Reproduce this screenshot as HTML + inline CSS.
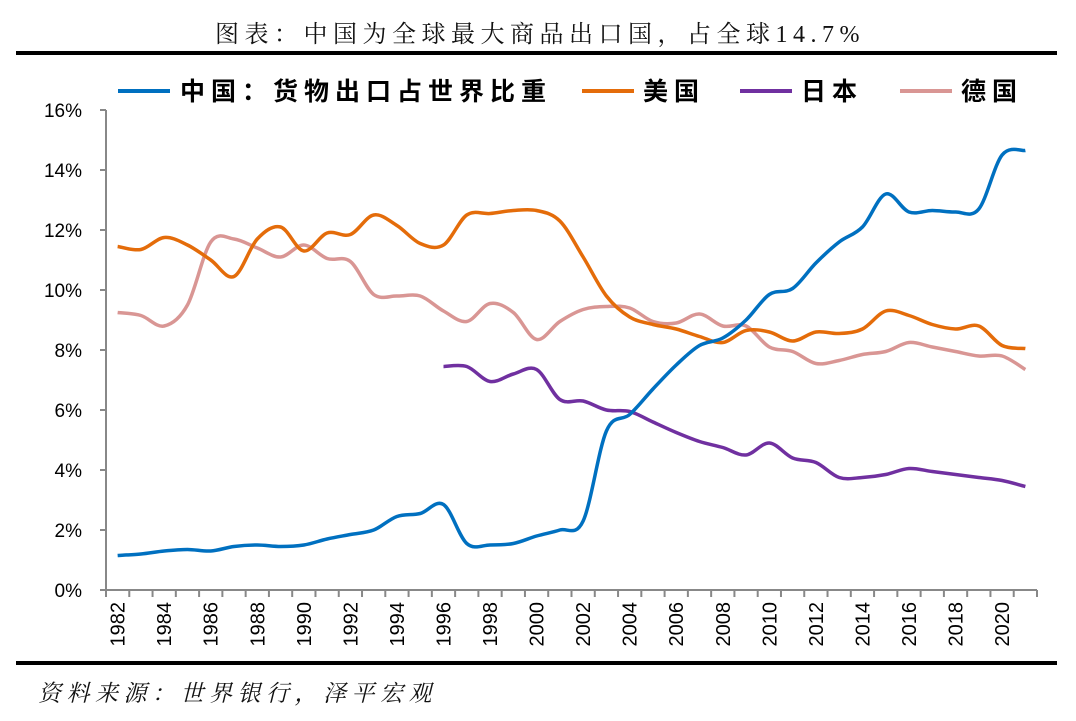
<!DOCTYPE html>
<html><head><meta charset="utf-8"><style>
body{margin:0;background:#fff;width:1076px;height:721px;overflow:hidden}
svg{display:block}
</style></head><body>
<svg id="c" width="1076" height="721">
<text x="540" y="42" text-anchor="middle" font-family="Liberation Serif, Noto Serif CJK SC, serif" font-size="24" letter-spacing="5.5" fill="#111">图表：中国为全球最大商品出口国，占全球14.7%</text>
<rect x="16" y="51" width="1041" height="4" fill="#000"/>
<rect x="16" y="661" width="1041" height="4" fill="#000"/>
<text x="38" y="701" font-family="Liberation Serif, Noto Serif CJK SC, serif" font-style="italic" font-size="23" letter-spacing="5.5" fill="#111">资料来源：世界银行，泽平宏观</text>
<g id="legend" font-family="Liberation Sans, Noto Sans CJK SC, sans-serif" font-weight="bold" font-size="25" fill="#000" letter-spacing="6">
<line x1="118" y1="91" x2="170" y2="91" stroke="#0070C0" stroke-width="4"/>
<text x="180" y="100">中国：货物出口占世界比重</text>
<line x1="582" y1="91" x2="634" y2="91" stroke="#E46C0A" stroke-width="4"/>
<text x="643" y="100">美国</text>
<line x1="740" y1="91" x2="792" y2="91" stroke="#7030A0" stroke-width="4"/>
<text x="801" y="100">日本</text>
<line x1="900" y1="91" x2="952" y2="91" stroke="#D99694" stroke-width="4"/>
<text x="961" y="100">德国</text>
</g>
</svg>
<script>
const years=[];for(let y=1982;y<=2021;y++)years.push(y);
const yTicks=[0,2,4,6,8,10,12,14,16];
const china=[1.15,1.2,1.3,1.35,1.3,1.45,1.5,1.45,1.5,1.7,1.85,2.0,2.45,2.55,2.85,1.55,1.5,1.55,1.8,2.0,2.3,5.3,5.85,6.7,7.5,8.15,8.4,9.0,9.85,10.05,10.9,11.6,12.1,13.2,12.6,12.65,12.6,12.7,14.5,14.65];
const us=[11.45,11.35,11.75,11.5,11.0,10.45,11.7,12.1,11.3,11.9,11.85,12.5,12.15,11.55,11.5,12.5,12.55,12.65,12.65,12.3,11.1,9.8,9.1,8.85,8.7,8.45,8.25,8.65,8.6,8.3,8.6,8.55,8.7,9.3,9.15,8.85,8.7,8.8,8.15,8.05];
const japan=[null,null,null,null,null,null,null,null,null,null,null,null,null,null,7.45,7.45,6.95,7.2,7.35,6.35,6.3,6.0,5.95,5.6,5.25,4.95,4.75,4.5,4.9,4.4,4.25,3.75,3.75,3.85,4.05,3.95,3.85,3.75,3.65,3.45];
const germany=[9.25,9.15,8.8,9.5,11.6,11.7,11.4,11.1,11.5,11.05,10.95,9.85,9.8,9.8,9.3,8.95,9.55,9.25,8.35,8.95,9.35,9.45,9.4,8.95,8.9,9.2,8.8,8.8,8.1,7.95,7.55,7.65,7.85,7.95,8.25,8.1,7.95,7.8,7.8,7.35];
const NS='http://www.w3.org/2000/svg',svg=document.getElementById('c');
const X0=106,X1=1037,Y0=590,Y1=110,band=(X1-X0)/years.length;
const xs=i=>X0+band*(i+0.5), ys=v=>Y0-(v/16)*(Y0-Y1);
function mk(t,a){const e=document.createElementNS(NS,t);for(const k in a)e.setAttribute(k,a[k]);svg.appendChild(e);return e;}
let e=mk('line',{x1:X0,y1:Y1,x2:X0,y2:Y0,stroke:'#888','stroke-width':2});


e=mk('line',{x1:X0,y1:Y0,x2:X1,y2:Y0,stroke:'#888','stroke-width':2});


yTicks.forEach(v=>{
 let t=mk('line',{x1:X0-6,y1:ys(v),x2:X0,y2:ys(v),stroke:'#888','stroke-width':2});
 
 
 let l=mk('text',{x:82,y:ys(v)+7,'text-anchor':'end','font-family':'Liberation Sans, sans-serif','font-size':19,fill:'#000'});
 l.textContent=v+'%';
 
 
});
for(let i=0;i<=years.length;i++){
 let t=mk('line',{x1:X0+band*i,y1:Y0,x2:X0+band*i,y2:Y0+7,stroke:'#888','stroke-width':2});
 
 
}
years.forEach((y,i)=>{if(y%2)return;
 let l=mk('text',{transform:`translate(${xs(i)+7},602) rotate(-90)`,'text-anchor':'end','font-family':'Liberation Sans, sans-serif','font-size':20,fill:'#000'});
 l.textContent=y;
 
 
});
function path(vals){
 const p=[];vals.forEach((v,i)=>{if(v!==null)p.push([xs(i),ys(v)]);});
 let d='M'+p[0][0]+','+p[0][1];
 for(let i=0;i<p.length-1;i++){
  const a=p[i-1]||p[i],b=p[i],c=p[i+1],n=p[i+2]||c;
  d+=` C${b[0]+(c[0]-a[0])/6},${b[1]+(c[1]-a[1])/6} ${c[0]-(n[0]-b[0])/6},${c[1]-(n[1]-b[1])/6} ${c[0]},${c[1]}`;
 }return d;
}
[[germany,'#D99694','series-germany'],[japan,'#7030A0','series-japan'],[us,'#E46C0A','series-us'],[china,'#0070C0','series-china']].forEach(s=>{
 let p=mk('path',{d:path(s[0]),fill:'none',stroke:s[1],'stroke-width':3.5,'stroke-linejoin':'round'});
 
 
});
</script>
</body></html>
